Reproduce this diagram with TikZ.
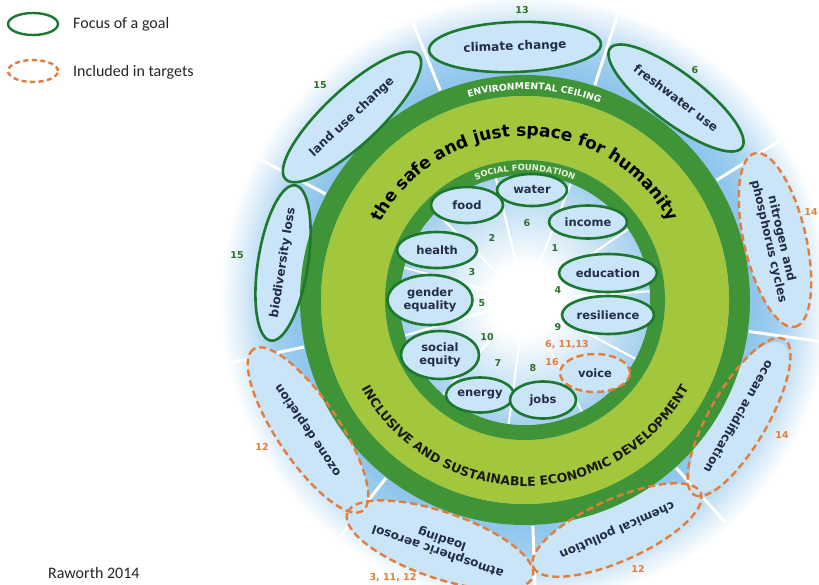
\documentclass[tikz,border=0pt]{standalone}
\usepackage{fontspec}
\setmainfont{DejaVu Sans}
\newfontfamily\dvfont{DejaVu Sans}
\newfontfamily\legfont{Carlito}
\usetikzlibrary{shapes.geometric, decorations.text}
\definecolor{ringdark}{RGB}{64,148,56}
\definecolor{ringlight}{RGB}{162,198,60}
\definecolor{goalgreen}{RGB}{28,120,48}
\definecolor{tgtorange}{RGB}{228,124,58}
\definecolor{numgreen}{RGB}{45,110,40}
\definecolor{halo}{RGB}{145,198,236}
\definecolor{ellfill}{RGB}{202,229,247}
\definecolor{navy}{RGB}{35,45,70}
\definecolor{innerblue}{RGB}{165,208,238}
\pgfdeclareradialshading{haloshade}{\pgfpoint{0bp}{0bp}}{color(0bp)=(halo); color(18.9bp)=(halo); color(20.8bp)=(halo!85!white); color(23.2bp)=(halo!35!white); color(25bp)=(white); color(50bp)=(white)}
\pgfdeclareradialshading{innershade}{\pgfpoint{0bp}{0bp}}{color(0bp)=(white); color(7bp)=(white); color(25bp)=(innerblue); color(50bp)=(innerblue)}
\newcommand\lblfont{\dvfont\bfseries\fontsize{12}{13}\selectfont}
\newcommand\inlblfont{\dvfont\bfseries\fontsize{11.5}{12.5}\selectfont}
\newcommand\numfont{\dvfont\bfseries\fontsize{9.5}{10}\selectfont}
\begin{document}
\begin{tikzpicture}[x=1pt,y=1pt,
  goal/.style={ellipse, draw=goalgreen, line width=2.6pt, inner sep=0pt, align=center, text=navy, font=\lblfont},
  target/.style={ellipse, draw=tgtorange, line width=2.4pt, dash pattern=on 7pt off 4pt, inner sep=0pt, align=center, text=navy, font=\lblfont},
  ingoal/.style={goal, fill=ellfill, font=\inlblfont},
  intarget/.style={target, fill=ellfill, font=\inlblfont},
  num/.style={font=\numfont, text=numgreen, inner sep=0pt},
  onum/.style={font=\numfont, text=tgtorange, inner sep=0pt},
  spoke/.style={white, line width=3pt},
  inspoke/.style={white, line width=2pt},
  legtext/.style={anchor=west, inner sep=0pt, font=\legfont\fontsize{16}{17}\selectfont, text=black!85}
]
\useasboundingbox (0,0) rectangle (819,-584);
\fill[white] (0,0) rectangle (819,-584);

% legend
\node[goal, minimum width=50, minimum height=22, line width=2.4pt] (lgoal) at (33,-24) {};
\node[legtext] (lgoalt) at (73,-24) {Focus of a goal};
\node[target, minimum width=50, minimum height=22, dash pattern=on 5pt off 3.5pt] (ltgt) at (33,-71) {};
\node[legtext] (ltgtt) at (73,-72) {Included in targets};
\node[legtext] (source) at (48,-573) {Raworth 2014};

\begin{scope}[shift={(525,-300)}]
% halo
\shade[shading=haloshade] (0,0) circle (305);
\foreach \a in {112,72,32,-8,-48,-88,-128,-168,152}
  \draw[spoke] (\a:226) -- (\a:300);

% fills of outer boundaries
\fill[ellfill, rotate around={2:(-10,253)}] (-10,253) ellipse [x radius=86, y radius=25];
\fill[ellfill, rotate around={-37:(151,202)}] (151,202) ellipse [x radius=82.5, y radius=25];
\fill[ellfill, rotate around={-77:(250,60)}] (250,60) ellipse [x radius=89, y radius=31];
\fill[ellfill, rotate around={-120:(214,-117)}] (214,-117) ellipse [x radius=85, y radius=29];
\fill[ellfill, rotate around={-156:(92,-230)}] (92,-230) ellipse [x radius=91.5, y radius=31];
\fill[ellfill, rotate around={161:(-85,-245)}] (-85,-245) ellipse [x radius=98, y radius=33];
\fill[ellfill, rotate around={124:(-217,-130)}] (-217,-130) ellipse [x radius=97.5, y radius=31];
\fill[ellfill, rotate around={81:(-242,37)}] (-242,37) ellipse [x radius=77.5, y radius=25];
\fill[ellfill, rotate around={43:(-173,183)}] (-173,183) ellipse [x radius=91, y radius=27.5];

% rings
\fill[ringdark, even odd rule] (0,0) circle (225) circle (204);
\fill[ringlight, even odd rule] (0,0) circle (204) circle (140);
\fill[ringdark, even odd rule] (0,0) circle (140) circle (125);
\shade[shading=innershade] (0,0) circle (125);
\foreach \a in {68.5,34.5,4,-28,-63,-97.5,-131,196.5,165,135.5,103.5}
  \draw[inspoke] (\a:25) -- (\a:125);

% curved texts
\path[decorate, decoration={text along path, text align=center,
  text={|\dvfont\bfseries\fontsize{9.2}{9.2}\selectfont\color{white}|ENVIRONMENTAL CEILING}}]
  (147.4:210.5) arc[start angle=147.4, end angle=27.4, radius=210.5];
\path[decorate, decoration={text along path, text align=center,
  text={|\dvfont\bfseries\fontsize{8.4}{8.4}\selectfont\color{white!80!ringlight}|SOCIAL FOUNDATION}}]
  (150:129.5) arc[start angle=150, end angle=30, radius=129.5];
\path[decorate, decoration={text along path, text align=center,
  text={|\dvfont\bfseries\fontsize{17}{17}\selectfont\color{black}|the safe and just space for humanity}}]
  (178:164) arc[start angle=178, end angle=2, radius=164];
\path[decorate, decoration={text along path, text align=center,
  text={|\dvfont\bfseries\fontsize{12.5}{12.5}\selectfont\color{black!90}|INCLUSIVE AND SUSTAINABLE ECONOMIC DEVELOPMENT}}]
  (195:186) arc[start angle=195, end angle=345, radius=186];

% outer boundaries
\node[goal, rotate=2, minimum width=172, minimum height=50] (climate) at (-10,253) {climate change};
\node[goal, rotate=-37, minimum width=165, minimum height=50] (fresh) at (151,202) {freshwater use};
\node[target, rotate=-77, minimum width=178, minimum height=62] (nitro) at (250,60) {nitrogen and\\phosphorus cycles};
\node[target, rotate=-120, minimum width=170, minimum height=58] (ocean) at (214,-117) {ocean acidification};
\node[target, rotate=-156, minimum width=183, minimum height=62] (chem) at (92,-230) {chemical pollution};
\node[target, rotate=161, minimum width=196, minimum height=66] (aero) at (-85,-245) {atmospheric aerosol\\loading};
\node[target, rotate=124, minimum width=195, minimum height=62] (ozone) at (-217,-130) {ozone depletion};
\node[goal, rotate=81, minimum width=155, minimum height=50] (bio) at (-242,37) {biodiversity loss};
\node[goal, rotate=43, minimum width=182, minimum height=55] (land) at (-173,183) {land use change};

% outer numbers
\node[num] (n13) at (-3,290) {13};
\node[num] (n6o) at (170,230) {6};
\node[onum] (n14a) at (286,88) {14};
\node[onum] (n14b) at (257,-135) {14};
\node[onum] (n12a) at (113,-269) {12};
\node[onum] (n31112) at (-132,-278) {3, 11, 12};
\node[onum] (n12b) at (-263,-147) {12};
\node[num] (n15a) at (-288,45) {15};
\node[num] (n15b) at (-205,215) {15};

% social foundation
\node[ingoal, minimum width=70, minimum height=32] (water) at (7,110) {water};
\node[ingoal, minimum width=72, minimum height=36] (food) at (-58,95) {food};
\node[ingoal, minimum width=78, minimum height=33] (income) at (63,78) {income};
\node[ingoal, minimum width=80, minimum height=36] (health) at (-88,50) {health};
\node[ingoal, minimum width=98, minimum height=38] (educ) at (83,27) {education};
\node[ingoal, minimum width=85, minimum height=50] (gender) at (-95,0) {gender\\equality};
\node[ingoal, minimum width=92, minimum height=38] (resil) at (83,-15) {resilience};
\node[ingoal, minimum width=78, minimum height=48] (social) at (-85,-55) {social\\equity};
\node[intarget, minimum width=70, minimum height=38] (voice) at (70,-73) {voice};
\node[ingoal, minimum width=68, minimum height=35] (energy) at (-45,-95) {energy};
\node[ingoal, minimum width=66, minimum height=37] (jobs) at (18,-100) {jobs};

% inner numbers
\node[num] (i6) at (2,77) {6};
\node[num] (i2) at (-33,62) {2};
\node[num] (i1) at (30,52) {1};
\node[num] (i3) at (-53,28) {3};
\node[num] (i4) at (33,10) {4};
\node[num] (i5) at (-43,-3) {5};
\node[num] (i9) at (33,-27) {9};
\node[num] (i10) at (-38,-37) {10};
\node[num] (i7) at (-27,-63) {7};
\node[num] (i8) at (8,-68) {8};
\node[onum] (i61113) at (42,-45) {6, 11,13};
\node[onum] (i16) at (27,-62) {16};
\end{scope}
\end{tikzpicture}
\end{document}
